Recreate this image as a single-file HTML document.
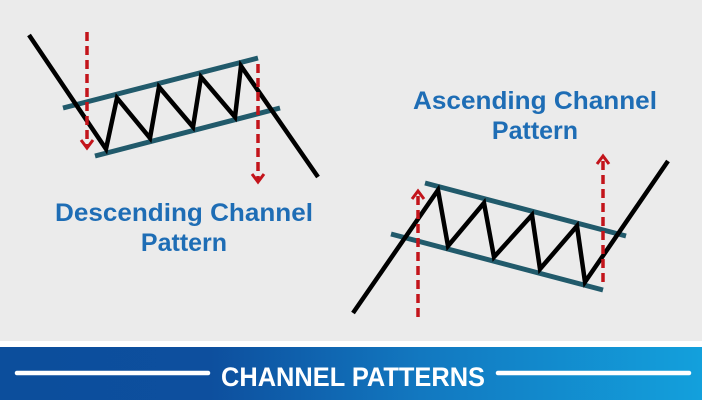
<!DOCTYPE html>
<html><head><style>html,body{margin:0;padding:0;background:#ebebeb}svg{display:block}</style></head>
<body>
<svg width="702" height="400" viewBox="0 0 702 400" xmlns="http://www.w3.org/2000/svg">
<defs>
<linearGradient id="g" x1="0" x2="1" y1="0" y2="0">
<stop offset="0" stop-color="#0c4e9c"/><stop offset="0.3" stop-color="#0d4f9e"/><stop offset="0.6" stop-color="#1278c0"/><stop offset="1" stop-color="#13a0dc"/>
</linearGradient>
</defs>
<rect width="702" height="400" fill="#ebebeb"/>
<rect y="341" width="702" height="6" fill="#ffffff"/>
<rect y="347" width="702" height="53" fill="url(#g)"/>
<line x1="17" y1="373" x2="208" y2="373" stroke="#fff" stroke-width="4.5" stroke-linecap="round"/>
<line x1="498" y1="373" x2="689" y2="373" stroke="#fff" stroke-width="4.5" stroke-linecap="round"/>
<text x="353" y="386" text-anchor="middle" font-family="Liberation Sans, sans-serif" font-weight="bold" font-size="27" fill="#fff" textLength="264" lengthAdjust="spacingAndGlyphs">CHANNEL PATTERNS</text>

<!-- descending -->
<g stroke-linecap="butt">
<line x1="63" y1="108" x2="258" y2="58" stroke="#215a6b" stroke-width="5"/>
<line x1="95" y1="156" x2="280" y2="108" stroke="#215a6b" stroke-width="5"/>
<polyline points="29,35 106,149 117,98 150,138 159,87 193,127 201,77 235,117 241,66 318,177" fill="none" stroke="#000" stroke-width="4.5" stroke-linejoin="miter"/>
<line x1="87" y1="32" x2="87" y2="146" stroke="#c3141b" stroke-width="3.5" stroke-dasharray="9,5"/>
<polyline points="81,140 87,148 93,140" fill="none" stroke="#c3141b" stroke-width="3"/>
<line x1="258" y1="64" x2="258" y2="180" stroke="#c3141b" stroke-width="3.5" stroke-dasharray="9,5"/>
<polyline points="252,174 258,182 264,174" fill="none" stroke="#c3141b" stroke-width="3"/>

<line x1="425" y1="183" x2="626" y2="236" stroke="#215a6b" stroke-width="5"/>
<line x1="391" y1="234" x2="603" y2="290" stroke="#215a6b" stroke-width="5"/>
<polyline points="353,313 438,190 448,246 484,203 494,257 532,215 540,269 577,226 585,282 668,161" fill="none" stroke="#000" stroke-width="4.5"/>
<line x1="418" y1="317" x2="418" y2="193" stroke="#c3141b" stroke-width="3.5" stroke-dasharray="9,5"/>
<polyline points="412,199 418,191 424,199" fill="none" stroke="#c3141b" stroke-width="3"/>
<line x1="603" y1="282" x2="603" y2="158" stroke="#c3141b" stroke-width="3.5" stroke-dasharray="9,5"/>
<polyline points="597,164 603,156 609,164" fill="none" stroke="#c3141b" stroke-width="3"/>
</g>

<g font-family="Liberation Sans, sans-serif" font-weight="bold" font-size="25" fill="#1e6db5" text-anchor="middle">
<text x="184" y="221" textLength="258" lengthAdjust="spacingAndGlyphs">Descending Channel</text>
<text x="184" y="251">Pattern</text>
<text x="535" y="109" textLength="244" lengthAdjust="spacingAndGlyphs">Ascending Channel</text>
<text x="535" y="139">Pattern</text>
</g>
</svg>
</body></html>
